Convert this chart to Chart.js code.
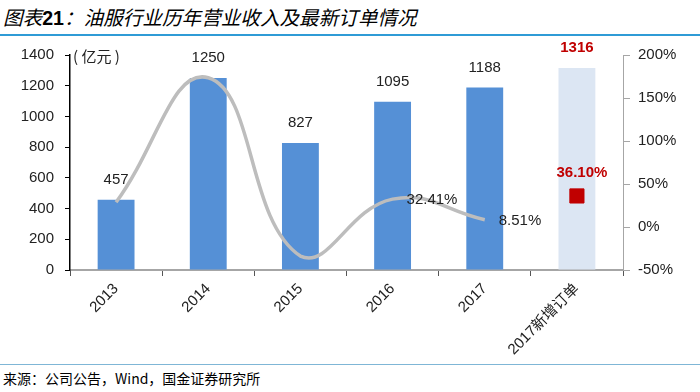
<!DOCTYPE html>
<html>
<head>
<meta charset="utf-8">
<script src="https://cdn.jsdelivr.net/npm/chart.js@4"></script>
<style>
  html, body { margin:0; padding:0; background:#fff; width:700px; height:392px; overflow:hidden; }
  #title { position:absolute; left:3px; top:4px; font-family:"Noto Sans CJK SC", sans-serif; font-style:italic; font-size:19.6px; color:#000; white-space:nowrap; line-height:26px; }
  #title b { font-family:"Liberation Sans", Arial, sans-serif; font-weight:bold; font-style:normal; }
  #topline { position:absolute; left:0; top:34px; width:700px; height:2px; background:#2f9bd6; }
  #botline { position:absolute; left:0; top:364px; width:700px; height:1px; background:#7fb6d6; }
  #source { position:absolute; left:3px; top:369px; font-family:"Noto Sans CJK SC", sans-serif; font-size:14px; color:#000; white-space:nowrap; line-height:18px; }
  #wrap { position:absolute; left:0; top:0; width:700px; height:362px; }
</style>
</head>
<body>
<div id="title">图表<b>21</b>：油服行业历年营业收入及最新订单情况</div>
<div id="topline"></div>
<div id="wrap"><canvas id="c" width="700" height="362"></canvas></div>
<div id="botline"></div>
<div id="source">来源：公司公告，Wind，国金证券研究所</div>
<script>
const categories = ['2013', '2014', '2015', '2016', '2017', '2017新增订单'];
const revenue = [457, 1250, 827, 1095, 1188, 1316];
const growth = [28.7, 173.5, -33.8, 32.41, 8.51, null];
const newOrderGrowth = [null, null, null, null, null, 36.10];
const leftTicks = [0, 200, 400, 600, 800, 1000, 1200, 1400];
const rightTicks = [-50, 0, 50, 100, 150, 200];
const lineLabelIdx = [3, 4];

const barColors = revenue.map((v, i) => i === revenue.length - 1 ? '#dce6f3' : '#5590d6');
const numFont = '"Liberation Sans", Arial, sans-serif';

const labelPlugin = {
  id: 'labels',
  afterDatasetsDraw(chart) {
    const ctx = chart.ctx;
    ctx.save();
    const bm = chart.getDatasetMeta(0);
    bm.data.forEach((el, i) => {
      const last = i === revenue.length - 1;
      ctx.font = (last ? 'bold ' : '') + '15px ' + numFont;
      ctx.fillStyle = last ? '#c00000' : '#222';
      ctx.textAlign = 'center';
      ctx.textBaseline = 'middle';
      ctx.fillText(String(revenue[i]), el.x, el.y - 20);
    });
    const lm = chart.getDatasetMeta(1);
    lineLabelIdx.forEach(i => {
      const el = lm.data[i];
      ctx.font = '15px ' + numFont;
      ctx.fillStyle = '#222';
      ctx.textAlign = 'left';
      ctx.textBaseline = 'middle';
      ctx.fillText(growth[i].toFixed(2) + '%', el.x + 14, el.y + 1);
    });
    const sm = chart.getDatasetMeta(2);
    const i = newOrderGrowth.length - 1;
    const el = sm.data[i];
    ctx.font = 'bold 15px ' + numFont;
    ctx.fillStyle = '#c00000';
    ctx.textAlign = 'center';
    ctx.textBaseline = 'middle';
    ctx.fillText(newOrderGrowth[i].toFixed(2) + '%', el.x + 5, el.y - 23);
    ctx.font = '15px "Noto Sans CJK SC", sans-serif';
    ctx.fillStyle = '#222';
    ctx.textAlign = 'left';
    ctx.fillText('( 亿元 )', chart.chartArea.left + 3, chart.scales.y.getPixelForValue(1400) + 1);
    ctx.restore();
  }
};

new Chart(document.getElementById('c'), {
  type: 'bar',
  data: {
    labels: categories,
    datasets: [
      { type: 'bar', data: revenue, backgroundColor: barColors, barPercentage: 0.4, categoryPercentage: 1, yAxisID: 'y', order: 3 },
      { type: 'line', data: growth, yAxisID: 'y1', borderColor: '#bdbdbd', borderWidth: 3.5, tension: 0.45, pointRadius: 0, fill: false, order: 1 },
      { type: 'line', data: newOrderGrowth, yAxisID: 'y1', showLine: false, pointStyle: 'rect', pointRadius: 10, pointBackgroundColor: '#c00000', pointBorderColor: '#c00000', order: 0 }
    ]
  },
  options: {
    responsive: false,
    animation: false,
    layout: { padding: { top: 55, left: 0, right: 0, bottom: 0 } },
    plugins: { legend: { display: false }, tooltip: { enabled: false } },
    scales: {
      x: {
        grid: { drawOnChartArea: false, drawTicks: true, tickLength: 6, color: '#555', offset: true },
        border: { color: '#a6a6a6', width: 2 },
        ticks: { maxRotation: 45, minRotation: 45, color: '#222', font: { family: '"Liberation Sans", "Noto Sans CJK SC", sans-serif', size: 15 }, padding: 4 },
        afterFit(s) { s.height = 92; }
      },
      y: {
        position: 'left', min: 0, max: 1400,
        afterBuildTicks(s) { s.ticks = leftTicks.map(v => ({ value: v })); },
        grid: { drawOnChartArea: false, tickLength: 5, color: '#000' },
        border: { color: '#000', width: 1.5 },
        ticks: { color: '#222', font: { family: numFont, size: 15 }, padding: 11, callback: v => String(v) },
        afterFit(s) { s.width = 70; }
      },
      y1: {
        position: 'right', min: -50, max: 200,
        afterBuildTicks(s) { s.ticks = rightTicks.map(v => ({ value: v })); },
        grid: { drawOnChartArea: false, tickLength: 7, color: '#a6a6a6' },
        border: { color: '#a6a6a6', width: 1 },
        ticks: { color: '#222', font: { family: numFont, size: 15 }, padding: 8, callback: v => v + '%' },
        afterFit(s) { s.width = 77; }
      }
    }
  },
  plugins: [labelPlugin]
});
</script>
</body>
</html>
